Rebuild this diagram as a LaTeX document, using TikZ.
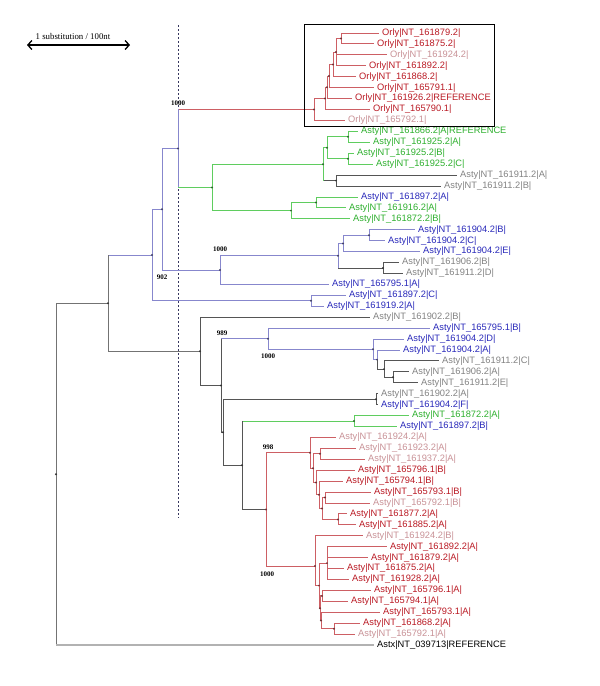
\documentclass[tikz,border=0pt]{standalone}
\usepackage{fontspec}
\setmainfont{Liberation Serif}
\newfontfamily\seqfont{Liberation Sans}
\usetikzlibrary{arrows.meta}
\definecolor{labred}{RGB}{185,25,35}
\definecolor{labpink}{RGB}{200,145,150}
\definecolor{labgray}{RGB}{130,130,130}
\definecolor{labblue}{RGB}{40,40,185}
\definecolor{labgreen}{RGB}{45,175,45}
\definecolor{brred}{RGB}{205,95,100}
\definecolor{brblue}{RGB}{135,135,205}
\definecolor{brgreen}{RGB}{95,205,95}
\definecolor{brgray}{RGB}{85,85,85}
\definecolor{brroot}{RGB}{115,115,115}
\definecolor{guide}{RGB}{55,55,95}

\begin{document}
\begin{tikzpicture}[x=1pt,y=-1pt,
    seq/.style={anchor=west,inner xsep=3pt,inner ysep=0pt,font={\seqfont\fontsize{9.3}{11}\selectfont}},
    boot/.style={inner sep=0pt,font={\fontsize{7}{8}\selectfont\bfseries}},
    br/.style={line width=0.9pt},
    redbr/.style={br,draw=brred}, bluebr/.style={br,draw=brblue},
    greenbr/.style={br,draw=brgreen}, graybr/.style={br,draw=brgray},
    rootbr/.style={br,draw=brroot}]
    \useasboundingbox (0,0) rectangle (600,686);

    % scale bar and guide line
    \coordinate (sbl) at (27,45);
    \coordinate (sbr) at (130,45);
    \draw[line width=1.3pt,{Straight Barb[length=4pt,width=9pt]}-{Straight Barb[length=4pt,width=9pt]}] (sbl) -- (sbr);
    \node[font={\fontsize{8.8}{10}\selectfont}] (sbtext) at (73,36) {1 substitution / 100nt};
    \coordinate (gtop) at (178,25);
    \coordinate (gbot) at (178,518);
    \draw[guide,line width=0.6pt,dash pattern=on 2pt off 2pt] (gtop) -- (gbot);

    % leaves, top to bottom
    \foreach \lab/\col/\tx [count=\i from 0] in {
        Orly|NT\_161879.2|/labred/379, Orly|NT\_161875.2|/labred/374,
        Orly|NT\_161924.2|/labpink/387, Orly|NT\_161892.2|/labred/366,
        Orly|NT\_161868.2|/labred/356, Orly|NT\_165791.1|/labred/374,
        Orly|NT\_161926.2|REFERENCE/labred/352, Orly|NT\_165790.1|/labred/370,
        Orly|NT\_165792.1|/labpink/345,
        Asty|NT\_161866.2|A|REFERENCE/labgreen/358, Asty|NT\_161925.2|A|/labgreen/370,
        Asty|NT\_161925.2|B|/labgreen/354, Asty|NT\_161925.2|C|/labgreen/373,
        Asty|NT\_161911.2|A|/labgray/457, Asty|NT\_161911.2|B|/labgray/441,
        Asty|NT\_161897.2|A|/labblue/358, Asty|NT\_161916.2|A|/labgreen/346,
        Asty|NT\_161872.2|B|/labgreen/350, Asty|NT\_161904.2|B|/labblue/415,
        Asty|NT\_161904.2|C|/labblue/385, Asty|NT\_161904.2|E|/labblue/420,
        Asty|NT\_161906.2|B|/labgray/399, Asty|NT\_161911.2|D|/labgray/403,
        Asty|NT\_165795.1|A|/labblue/329, Asty|NT\_161897.2|C|/labblue/346,
        Asty|NT\_161919.2|A|/labblue/324, Asty|NT\_161902.2|B|/labgray/370,
        Asty|NT\_165795.1|B|/labblue/430, Asty|NT\_161904.2|D|/labblue/404,
        Asty|NT\_161904.2|A|/labblue/400, Asty|NT\_161911.2|C|/labgray/439,
        Asty|NT\_161906.2|A|/labgray/409, Asty|NT\_161911.2|E|/labgray/418,
        Asty|NT\_161902.2|A|/labgray/378, Asty|NT\_161904.2|F|/labblue/378,
        Asty|NT\_161872.2|A|/labgreen/409, Asty|NT\_161897.2|B|/labblue/397,
        Asty|NT\_161924.2|A|/labpink/336, Asty|NT\_161923.2|A|/labpink/356,
        Asty|NT\_161937.2|A|/labpink/365, Asty|NT\_165796.1|B|/labred/355,
        Asty|NT\_165794.1|B|/labred/343, Asty|NT\_165793.1|B|/labred/371,
        Asty|NT\_165792.1|B|/labpink/370, Asty|NT\_161877.2|A|/labred/347,
        Asty|NT\_161885.2|A|/labred/356, Asty|NT\_161924.2|B|/labpink/363,
        Asty|NT\_161892.2|A|/labred/387, Asty|NT\_161879.2|A|/labred/368,
        Asty|NT\_161875.2|A|/labred/344, Asty|NT\_161928.2|A|/labred/349,
        Asty|NT\_165796.1|A|/labred/371, Asty|NT\_165794.1|A|/labred/348,
        Asty|NT\_165793.1|A|/labred/380, Asty|NT\_161868.2|A|/labred/360,
        Asty|NT\_165792.1|A|/labpink/355, Astx|NT\_039713|REFERENCE/black/374} {
        \node[seq,text=\col] (l\i) at (\tx,{33+10.93*\i}) {\lab};
    }

    % internal nodes
    \foreach \n/\x/\y in {q6/341/38.5, q5/336/52, q4/333/64.4, q3/329/76, q2/327/87.3,
        q1/325/98.4, q0/314/109.4,
        g3/348/136.8, g4/348/158.7, g2/327/147.8, g5/336/180.6, g1/323/164.2,
        g7/316/202.4, g6/291/210.6, g0/212/187.4, o/178/148.4,
        k3/369/235.2, k2/343/243.4, k4/383/268, k1/338/255.7, k/220/270,
        c1/162/209.2, c2/311/300.8, b1/152/255,
        n4/393/377.3, n3/384/369.1, n2/377/359.6, n1/373/349.3, m/268/338.7,
        p/376/399.2, h/354/421,
        u3/320/453.8, u7/325/497.5, u8/338/519.4, u6/322/508.5, u5/319/494.8,
        u4/316/482.5, u2/313/468.2, u1/310/452.8,
        w7/334/628.7, w5/321/620.5, w6/322/595.9, w4/320/608.2, w3/327/563.1,
        w2/319/585.6, w1/315/566,
        s/266/509.4, f/242/465.2, e/223/432.2, d/221/385.5, b2/200/351.3,
        a1/108/303.2, r/56/474.2}
        \coordinate (\n) at (\x,\y);

    % branches
    \foreach \p/\c/\s in {
        q6/l0.west/redbr, q6/l1.west/redbr, q5/q6/redbr, q5/l2.west/redbr, q5/l3.west/redbr,
        q4/q5/redbr, q4/l4.west/redbr, q3/q4/redbr, q3/l5.west/redbr, q2/q3/redbr,
        q2/l6.west/redbr, q1/q2/redbr, q1/l7.west/redbr, q0/q1/redbr, q0/l8.west/redbr,
        o/q0/redbr,
        g3/l9.west/greenbr, g3/l10.west/greenbr, g4/l11.west/greenbr, g4/l12.west/greenbr,
        g2/g3/greenbr, g2/g4/greenbr, g5/l13.west/graybr, g5/l14.west/graybr,
        g1/g2/greenbr, g1/g5/graybr, g7/l15.west/greenbr, g7/l16.west/greenbr,
        g6/g7/greenbr, g6/l17.west/greenbr, g0/g1/greenbr, g0/g6/greenbr, o/g0/greenbr,
        c1/o/bluebr, c1/k/bluebr,
        k3/l18.west/bluebr, k3/l19.west/bluebr, k2/k3/bluebr, k2/l20.west/bluebr,
        k4/l21.west/graybr, k4/l22.west/graybr, k1/k2/bluebr, k1/k4/graybr,
        k/k1/bluebr, k/l23.west/bluebr,
        c2/l24.west/bluebr, c2/l25.west/bluebr, b1/c1/bluebr, b1/c2/bluebr,
        a1/b1/bluebr, a1/b2/rootbr, b2/l26.west/graybr, b2/d/graybr,
        d/m/bluebr, d/e/graybr, m/l27.west/bluebr, m/n1/bluebr,
        n1/l28.west/bluebr, n1/n2/bluebr, n2/l29.west/bluebr, n2/n3/graybr,
        n3/l30.west/graybr, n3/n4/graybr, n4/l31.west/graybr, n4/l32.west/graybr,
        e/p/graybr, e/f/graybr, p/l33.west/graybr, p/l34.west/graybr,
        f/h/greenbr, f/s/graybr, h/l35.west/greenbr, h/l36.west/greenbr,
        s/u1/redbr, s/w1/redbr,
        u1/l37.west/redbr, u1/u2/redbr, u2/u3/redbr, u2/u4/redbr,
        u3/l38.west/redbr, u3/l39.west/redbr, u4/l40.west/redbr, u4/u5/redbr,
        u5/l41.west/redbr, u5/u6/redbr, u6/u7/redbr, u6/u8/redbr,
        u7/l42.west/redbr, u7/l43.west/redbr, u8/l44.west/redbr, u8/l45.west/redbr,
        w1/l46.west/redbr, w1/w2/redbr, w2/w3/redbr, w2/w4/redbr,
        w3/l47.west/redbr, w3/l48.west/redbr, w3/l49.west/redbr, w3/l50.west/redbr,
        w4/w6/redbr, w4/w5/redbr, w6/l51.west/redbr, w6/l52.west/redbr,
        w5/l53.west/redbr, w5/w7/redbr, w7/l54.west/redbr, w7/l55.west/redbr,
        r/a1/rootbr}
        \draw[\s] (\p) |- (\c);
    \coordinate (rb) at (r |- l56.west);
    \draw[rootbr] (r) -- (rb);
    \draw[line width=1.4pt,draw=black!30] (rb) -- (l56.west);

    % node colour on the vertical parts
    \foreach \p/\a/\b/\s in {a1/b1/b2/rootbr, o/q0/g0/bluebr, g1/g2/g5/greenbr,
        k1/k2/k4/bluebr, f/h/s/graybr, d/m/e/graybr}
        \draw[\s] (\p |- \a) -- (\p |- \b);

    % node dots
    \foreach \n in {q0,q1,q2,q3,q4,q5,q6,s,u1,u2,u3,u4,u5,u6,u7,u8,w1,w2,w3,w4,w5,w6,w7}
        \fill[brred!55!black] (\n) circle (1.1pt);
    \foreach \n in {o,c1,c2,b1,k,k1,k2,k3,m,n1,n2}
        \fill[brblue!50!black] (\n) circle (1.1pt);
    \foreach \n in {g0,g1,g2,g3,g4,g6,g7,h}
        \fill[brgreen!50!black] (\n) circle (1.1pt);
    \foreach \n in {g5,k4,n3,n4,p,e,f,d,b2,a1,r}
        \fill[black!80] (\n) circle (1.1pt);

    % bootstrap values
    \node[boot] (bt1) at (178,103) {1000};
    \node[boot] (bt2) at (220,249) {1000};
    \node[boot] (bt3) at (162,277) {902};
    \node[boot] (bt4) at (222,333) {989};
    \node[boot] (bt5) at (268,356) {1000};
    \node[boot] (bt6) at (268,447) {998};
    \node[boot] (bt7) at (267,574) {1000};

    % frame round the Orly clade
    \draw[line width=0.8pt] (304,24) rectangle (494,126);
\end{tikzpicture}
\end{document}
